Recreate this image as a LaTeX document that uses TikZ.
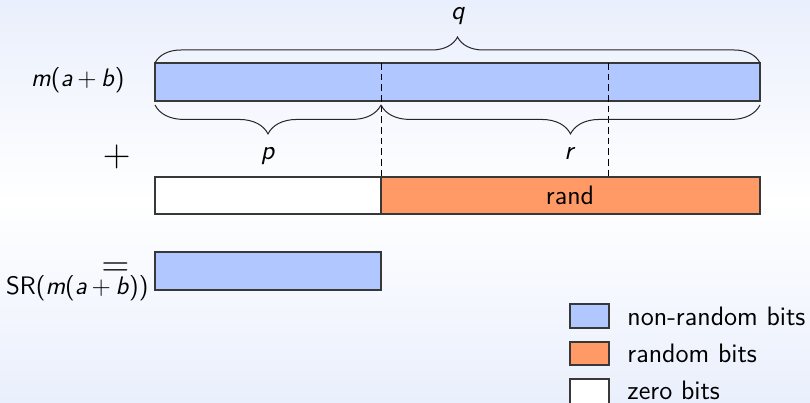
\documentclass[tikz,border=0pt]{standalone}
\usetikzlibrary{decorations.pathreplacing}
\definecolor{bgblue}{RGB}{233,239,252}
\definecolor{nrblue}{RGB}{176,200,255}
\definecolor{rorange}{RGB}{255,153,102}
\tikzset{
  bar/.style={draw=black!78, line width=0.5pt},
  txt/.style={font=\fontsize{12}{14}\selectfont\sffamily, inner sep=0pt},
  mtxt/.style={font=\fontsize{11.4}{14}\selectfont\sffamily, inner sep=0pt},
  bigop/.style={font=\fontsize{16.5}{20}\selectfont, inner sep=0pt, anchor=base},
  guide/.style={draw=black, line width=0.45pt, dash pattern=on 3pt off 1.8pt},
  topbrace/.style={decorate, decoration={brace, amplitude=11.7pt}, draw=black!85, line width=0.45pt},
  lowbrace/.style={decorate, decoration={brace, mirror, amplitude=13pt, raise=1.8pt}, draw=black!85, line width=0.45pt},
}
\begin{document}
\begin{tikzpicture}[x=0.45pt, y=-0.45pt]
  \useasboundingbox (0,0) rectangle (810,403);
  \fill[top color=bgblue, bottom color=bgblue, middle color=white] (0,0) rectangle (810,403);

  % main bars
  \path[bar, fill=nrblue] (155,63) rectangle (760,101);
  \path[bar, fill=white] (155,177) rectangle (381,214);
  \path[bar, fill=rorange] (381,177) rectangle (760,214);
  \path[bar, fill=nrblue] (155,252) rectangle (381,290);

  \coordinate (d1t) at (381,63);
  \coordinate (d1b) at (381,177);
  \coordinate (d2t) at (608,63);
  \coordinate (d2b) at (608,177);
  \draw[guide] (d1t) -- (d1b);
  \draw[guide] (d2t) -- (d2b);

  % braces
  \coordinate (qa) at (155,63);
  \coordinate (qb) at (760,63);
  \coordinate (pa) at (155,101);
  \coordinate (pb) at (381,101);
  \coordinate (rb) at (760,101);
  \draw[topbrace] (qa) -- (qb);
  \draw[lowbrace] (pa) -- (pb);
  \draw[lowbrace] (pb) -- (rb);

  % labels
  \node[txt, anchor=base] (q) at (458,20) {\textit{q}};
  \node[txt, anchor=base] (p) at (268,160) {\textit{p}};
  \node[txt, anchor=base] (r) at (570,160) {\textit{r}};
  \node[txt, anchor=base] (rand) at (570,205) {rand};
  \node[mtxt, anchor=base east] (mab) at (125,87)
    {\textit{m}(\textit{a}\hspace{0.18em}+\hspace{0.18em}\textit{b})};
  \node[mtxt, anchor=base east] (sr) at (149,295)
    {SR(\textit{m}(\textit{a}\hspace{0.18em}+\hspace{0.18em}\textit{b}))};
  \node[bigop] (plus) at (116.7,166.7) {$+$};
  \node[bigop] (eq) at (115.5,276.7) {$=$};

  % legend
  \path[bar, fill=nrblue] (570,304) rectangle (609,328);
  \path[bar, fill=rorange] (570,342) rectangle (609,365);
  \path[bar, fill=white] (570,379) rectangle (609,406);
  \node[txt, anchor=base west] (l1) at (627,326) {non-random bits};
  \node[txt, anchor=base west] (l2) at (627,363) {random bits};
  \node[txt, anchor=base west] (l3) at (627,400) {zero bits};
\end{tikzpicture}
\end{document}
